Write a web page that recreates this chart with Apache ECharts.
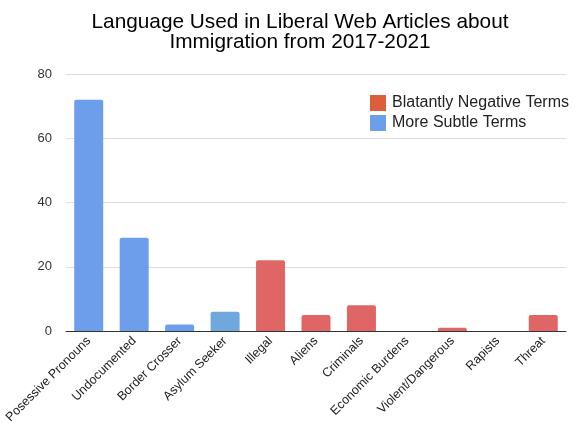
<!DOCTYPE html>
<html>
<head>
<meta charset="utf-8">
<script src="https://cdn.jsdelivr.net/npm/echarts@6/dist/echarts.min.js"></script>
<style>
  html, body { margin: 0; padding: 0; background: #fff; }
  #chart { width: 575px; height: 427px; }
</style>
</head>
<body>
<div id="chart"></div>
<script>
// Term categories along the x axis
const categories = ['Posessive Pronouns', 'Undocumented', 'Border Crosser', 'Asylum Seeker',
  'Illegal', 'Aliens', 'Criminals', 'Economic Burdens', 'Violent/Dangerous', 'Rapists', 'Threat'];

// Counts per term; '-' where the term belongs to the other group
const subtleCounts = [72, 29, 2, 6, '-', '-', '-', '-', '-', '-', '-'];
const negativeCounts = ['-', '-', '-', '-', 22, 5, 8, 0, 1, 0, 5];

const yTicks = { min: 0, max: 80, interval: 20 };

const FONT = 'Arial, "Liberation Sans", sans-serif';
const BLUE = '#6d9eeb';
const BLUE_LIGHT = '#6fa8dc';
const RED = '#e06666';
const RED_LEGEND = '#dd5e3a';

const chart = echarts.init(document.getElementById('chart'), null, { renderer: 'canvas' });

chart.setOption({
  animation: false,
  backgroundColor: '#ffffff',
  title: {
    text: 'Language Used in Liberal Web Articles about\nImmigration from 2017-2021',
    left: 295,
    textAlign: 'center',
    top: 7,
    textStyle: { fontFamily: FONT, fontSize: 20.8, fontWeight: 'normal', color: '#000', lineHeight: 20 }
  },
  legend: {
    orient: 'vertical',
    left: 365,
    top: 90,
    itemWidth: 16,
    itemHeight: 16,
    itemGap: 4,
    icon: 'rect',
    textStyle: { fontFamily: FONT, fontSize: 16, color: '#222', padding: [0, 0, 0, 1] },
    data: [
      { name: 'Blatantly Negative Terms', itemStyle: { color: RED_LEGEND } },
      { name: 'More Subtle Terms', itemStyle: { color: BLUE } }
    ]
  },
  grid: { left: 66, right: 9, top: 74, bottom: 96, containLabel: false },
  xAxis: {
    type: 'category',
    data: categories,
    axisLine: { show: true, lineStyle: { color: '#333', width: 1 } },
    axisTick: { show: false },
    axisLabel: {
      interval: 0,
      rotate: 45,
      margin: 8,
      fontFamily: FONT,
      fontSize: 12.5,
      color: '#222'
    }
  },
  yAxis: {
    type: 'value',
    min: yTicks.min,
    max: yTicks.max,
    interval: yTicks.interval,
    axisLine: { show: false },
    axisTick: { show: false },
    axisLabel: { fontFamily: FONT, fontSize: 13, color: '#333', margin: 14 },
    splitLine: { lineStyle: { color: '#dcdcdc', width: 1 } }
  },
  series: [
    {
      name: 'Blatantly Negative Terms',
      type: 'bar',
      stack: 'terms',
      barWidth: 29,
      itemStyle: { color: RED, borderRadius: [2, 2, 0, 0] },
      data: negativeCounts
    },
    {
      name: 'More Subtle Terms',
      type: 'bar',
      stack: 'terms',
      barWidth: 29,
      itemStyle: { color: BLUE, borderRadius: [2, 2, 0, 0] },
      data: subtleCounts.map((v, i) =>
        i === 3 ? { value: v, itemStyle: { color: BLUE_LIGHT } } : v)
    }
  ]
});
</script>
</body>
</html>
